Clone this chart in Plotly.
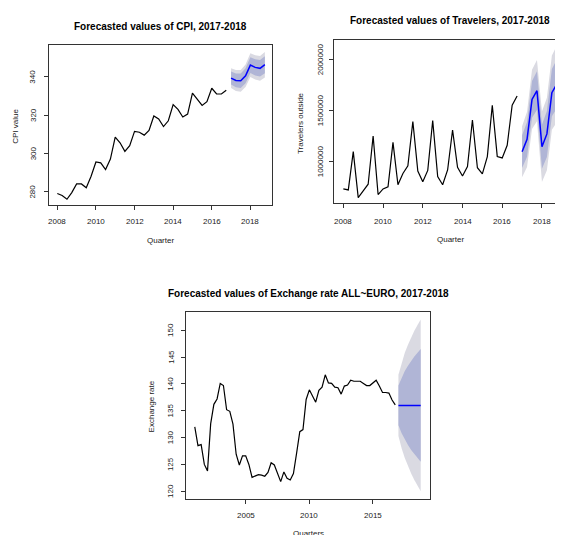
import plotly.graph_objects as go

# page is 563x535; the html body adds an 8px margin, so the figure is 555x527
OFF = 8
W, H = 563 - OFF, 535 - OFF

# ---------------- data ----------------
cpi_start = 2008.0
cpi_values = [279, 278, 276, 279.5, 284, 284, 282, 288,
              295.5, 295, 291.5, 297, 308.5, 305.5, 301, 304,
              311.5, 311, 309.5, 312, 319.5, 318, 314, 317,
              325.5, 323, 319, 320.5, 331.5, 328.5, 325, 327,
              334, 331, 331, 333]
cpi_fc = [339.3, 338.1, 337.9, 340.5, 346.1, 344.9, 344.4, 346.3]
cpi_hw80 = [3.4, 3.6, 3.8, 3.9, 4.1, 4.2, 4.3, 4.4]
cpi_hw95 = [5.2, 5.5, 5.7, 5.9, 6.2, 6.3, 6.5, 6.7]

trav_start = 2008.0
trav_values = [730000, 719000, 1095000, 644000, 709000, 775000, 1248000, 674000,
               729000, 750000, 1185000, 770000, 880000, 955000, 1390000, 905000,
               800000, 910000, 1400000, 850000, 770000, 915000, 1307000, 940000,
               856000, 948000, 1405000, 937000, 876000, 1046000, 1549000, 1046000,
               1033000, 1157000, 1549000, 1640000]
trav_fc = [1094000, 1215000, 1607000, 1692000, 1143000, 1268000, 1673000, 1758000]
trav_hw80 = [160000, 170000, 180000, 190000, 215000, 225000, 232000, 240000]
trav_hw95 = [250000, 270000, 290000, 300000, 345000, 355000, 365000, 375000]

ex_start = 2001.0
ex_values = [132.0, 128.5, 128.7, 125.0, 123.8, 132.6, 136.2, 137.2,
             140.1, 139.7, 135.2, 134.9, 132.5, 126.9, 124.9, 126.6,
             126.6, 125.0, 122.6, 122.8, 123.1, 123.0, 122.8, 123.5,
             125.3, 124.9, 123.3, 121.8, 123.6, 122.4, 122.1, 123.3,
             127.1, 131.1, 131.5, 137.1, 138.9, 137.6, 136.6, 138.8,
             139.4, 141.7, 140.2, 140.1, 139.4, 139.3, 138.1, 139.6,
             139.8, 140.7, 140.5, 140.5, 140.5, 140.1, 139.7, 139.7,
             140.2, 140.7, 139.6, 138.4, 138.4, 138.3, 137.0, 136.1]
ex_fc = [136.0, 136.0, 136.0, 136.0, 136.0, 136.0, 136.0, 136.0]
ex_hw80 = [3.7, 5.2, 6.4, 7.4, 8.3, 9.1, 9.8, 10.5]
ex_hw95 = [5.7, 8.0, 9.8, 11.3, 12.7, 13.9, 15.0, 16.0]

fc_start = 2017.0

cpi_yticks = [280, 300, 320, 340]
cpi_xticks = [2008, 2010, 2012, 2014, 2016, 2018]
trav_yticks = [1000000, 1500000, 2000000]
trav_xticks = [2008, 2010, 2012, 2014, 2016, 2018]
ex_yticks = [120, 125, 130, 135, 140, 145, 150]
ex_xticks = [2005, 2010, 2015]

titles = ["Forecasted values of CPI, 2017-2018",
          "Forecasted values of Travelers, 2017-2018",
          "Forecasted values of Exchange rate ALL~EURO, 2017-2018"]
xtitles = ["Quarter", "Quarter", "Quarters"]
ytitles = ["CPI value", "Travelers outside", "Exchange rate"]

# ---------------- styling ----------------
FONT = "Liberation Sans, Arial, Helvetica, sans-serif"
C80 = "#b0b5d6"
C95 = "#dadae2"
FRAME = "#333333"
TXT = "#222222"

def qx(start, n):
    return [start + i / 4 for i in range(n)]

def fx_(p):   # page x px -> paper fraction
    return (p - OFF) / W

def fy_(p):   # page y px -> paper fraction
    return 1 - (p - OFF) / H

fig = go.Figure()

def add_panel(idx, values, start, fc, hw80, hw95):
    xa = "x" if idx == 1 else f"x{idx}"
    ya = "y" if idx == 1 else f"y{idx}"
    hx = qx(start, len(values))
    fx = qx(fc_start, len(fc))
    up95 = [f + h for f, h in zip(fc, hw95)]
    lo95 = [f - h for f, h in zip(fc, hw95)]
    up80 = [f + h for f, h in zip(fc, hw80)]
    lo80 = [f - h for f, h in zip(fc, hw80)]
    fig.add_trace(go.Scatter(x=fx + fx[::-1], y=up95 + lo95[::-1], fill="toself",
                             fillcolor=C95, line=dict(width=0), mode="lines",
                             xaxis=xa, yaxis=ya, hoverinfo="skip"))
    fig.add_trace(go.Scatter(x=fx + fx[::-1], y=up80 + lo80[::-1], fill="toself",
                             fillcolor=C80, line=dict(width=0), mode="lines",
                             xaxis=xa, yaxis=ya, hoverinfo="skip"))
    fig.add_trace(go.Scatter(x=hx, y=values, mode="lines",
                             line=dict(color="black", width=1.2),
                             xaxis=xa, yaxis=ya))
    fig.add_trace(go.Scatter(x=fx, y=fc, mode="lines",
                             line=dict(color="#0000ff", width=1.5),
                             xaxis=xa, yaxis=ya))

add_panel(1, cpi_values, cpi_start, cpi_fc, cpi_hw80, cpi_hw95)
add_panel(2, trav_values, trav_start, trav_fc, trav_hw80, trav_hw95)
add_panel(3, ex_values, ex_start, ex_fc, ex_hw80, ex_hw95)

def xaxis(a, b, rng, ticks, anchor):
    return dict(domain=[fx_(a), min(1.0, fx_(b))], range=rng, tickvals=ticks,
                showticklabels=False,
                showgrid=False, zeroline=False, showline=True, linecolor=FRAME,
                linewidth=1, mirror=True, ticks="outside", ticklen=4,
                tickcolor=FRAME, anchor=anchor)

def yaxis(top, bottom, rng, ticks, anchor, mirror=True):
    return dict(domain=[fy_(bottom), fy_(top)], range=rng, tickvals=ticks,
                showticklabels=False,
                showgrid=False, zeroline=False, showline=True, linecolor=FRAME,
                linewidth=1, mirror=mirror, ticks="outside", ticklen=4,
                tickcolor=FRAME, anchor=anchor)

fig.update_layout(
    width=W, height=H, autosize=False,
    margin=dict(l=0, r=0, t=0, b=0),
    paper_bgcolor="white", plot_bgcolor="white",
    showlegend=False,
    xaxis=xaxis(49, 272, [2007.57, 2019.12], cpi_xticks, "y"),
    yaxis=yaxis(45, 205, [273.0, 356.6], cpi_yticks, "x"),
    xaxis2=xaxis(334, 563, [2007.53, 2019.06], trav_xticks, "y2"),
    yaxis2=yaxis(40, 203, [591000, 2189000], trav_yticks, "x2", mirror=False),
    xaxis3=xaxis(186, 430, [2000.31, 2019.48], ex_xticks, "y3"),
    yaxis3=yaxis(311.7, 499.3, [118.5, 153.46], ex_yticks, "x3"),
)

annots = []
tickfont = dict(family=FONT, size=8, color=TXT)

# x tick labels (data x, page y)
for xr, ticks, ypix in [("x", cpi_xticks, 221.7), ("x2", trav_xticks, 221.0), ("x3", ex_xticks, 515.0)]:
    for t in ticks:
        annots.append(dict(x=t, xref=xr, y=fy_(ypix), yref="paper", text=str(t),
                           showarrow=False, xanchor="center", yanchor="middle", font=tickfont))
# y tick labels (page x, data y), rotated
for yr, ticks, xpix in [("y", cpi_yticks, 33.0), ("y2", trav_yticks, 320.0), ("y3", ex_yticks, 170.7)]:
    for t in ticks:
        annots.append(dict(x=fx_(xpix), xref="paper", y=t, yref=yr, text=str(t),
                           showarrow=False, xanchor="center", yanchor="middle",
                           textangle=-90, font=tickfont))

title_pos = [(160.5, 26.7), (450, 20.7), (308, 293.3)]
for (x, y), t in zip(title_pos, titles):
    annots.append(dict(x=fx_(x), y=fy_(y), xref="paper", yref="paper", text="<b>" + t + "</b>",
                       showarrow=False, xanchor="center", yanchor="middle",
                       font=dict(family=FONT, size=10, color="black")))
xt_pos = [(160.5, 240.7), (450, 239.5), (308, 533)]
for (x, y), t in zip(xt_pos, xtitles):
    annots.append(dict(x=fx_(x), y=fy_(y), xref="paper", yref="paper", text=t,
                       showarrow=False, xanchor="center", yanchor="middle",
                       font=dict(family=FONT, size=8, color=TXT)))
yt_pos = [(16, 126.7), (300, 123), (151.7, 406.7)]
for (x, y), t in zip(yt_pos, ytitles):
    annots.append(dict(x=fx_(x), y=fy_(y), xref="paper", yref="paper", text=t,
                       showarrow=False, xanchor="center", yanchor="middle", textangle=-90,
                       font=dict(family=FONT, size=8, color=TXT)))
fig.update_layout(annotations=annots)

fig.write_html("out.html")
